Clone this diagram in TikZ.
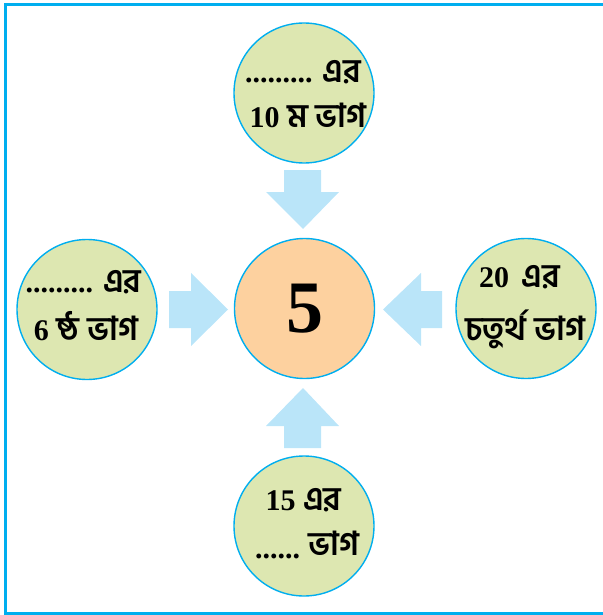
\documentclass[tikz,border=0pt]{standalone}
\usepackage{fontspec}
\setmainfont{Liberation Serif}
\newfontfamily\bn[Script=Bengali]{Hind Siliguri}
\definecolor{frameblue}{HTML}{00AEEF}
\definecolor{leaf}{HTML}{DDE7B1}
\definecolor{peach}{HTML}{FDD19F}
\definecolor{arrowblue}{HTML}{BAE5F9}
\tikzset{
  bubble/.style={circle, draw=frameblue, line width=1.4pt, fill=leaf, minimum size=140pt, inner sep=0pt},
  centre/.style={bubble, fill=peach},
  txt/.style={anchor=base, inner sep=0pt, font=\fontsize{30}{34}\selectfont\bfseries},
  bigarrow/.style={fill=arrowblue, draw=none}
}
\newcommand{\B}[1]{{\bn\fontsize{33}{36}\selectfont #1}}
\begin{document}
\begin{tikzpicture}[x=1pt, y=-1pt]
\useasboundingbox (0,0) rectangle (602,615);
% frame
\draw[frameblue, line width=3pt] (610,5) -- (5,5) -- (5,613) -- (610,613);
% circles
\node[centre] (c) at (304.5,308.5) {};
\node[font=\fontsize{74}{78}\selectfont\bfseries] (five) at (c) {5};
\node[bubble] (t) at (304,93) {};
\node[bubble] (l) at (87,309.5) {};
\node[bubble] (r) at (526,308.5) {};
\node[bubble] (b) at (304,526) {};
% arrows
\fill[bigarrow] (284,170) -- (321,170) -- (321,192) -- (339,192) -- (303,229) -- (266,192) -- (284,192) -- cycle;
\fill[bigarrow] (169,291) -- (191,291) -- (191,273) -- (228,309.5) -- (191,346) -- (191,328) -- (169,328) -- cycle;
\fill[bigarrow] (442,291) -- (421,291) -- (421,273) -- (383,309.5) -- (421,346) -- (421,328) -- (442,328) -- cycle;
\fill[bigarrow] (284,448) -- (321,448) -- (321,426) -- (339,426) -- (303,388) -- (266,426) -- (284,426) -- cycle;
% texts
\node[txt] (t1) at (303,83) {......... \B{এর}};
\node[txt] (t2) at (308,128) {10 \B{ম ভাগ}};
\node[txt] (l1) at (83.5,292) {......... \B{এর}};
\node[txt] (l2) at (86,340) {6 \B{ষ্ঠ ভাগ}};
\node[txt] (r1) at (519.5,287) {20\, \B{এর}};
\node[txt] (r2) at (525.5,340) {\B{চতুর্থ ভাগ}};
\node[txt] (b1) at (303.5,510) {15 \B{এর}};
\node[txt] (b2a) at (277.5,558) {......};
\node[txt] (b2b) at (334,555) {\B{ভাগ}};
\end{tikzpicture}
\end{document}
